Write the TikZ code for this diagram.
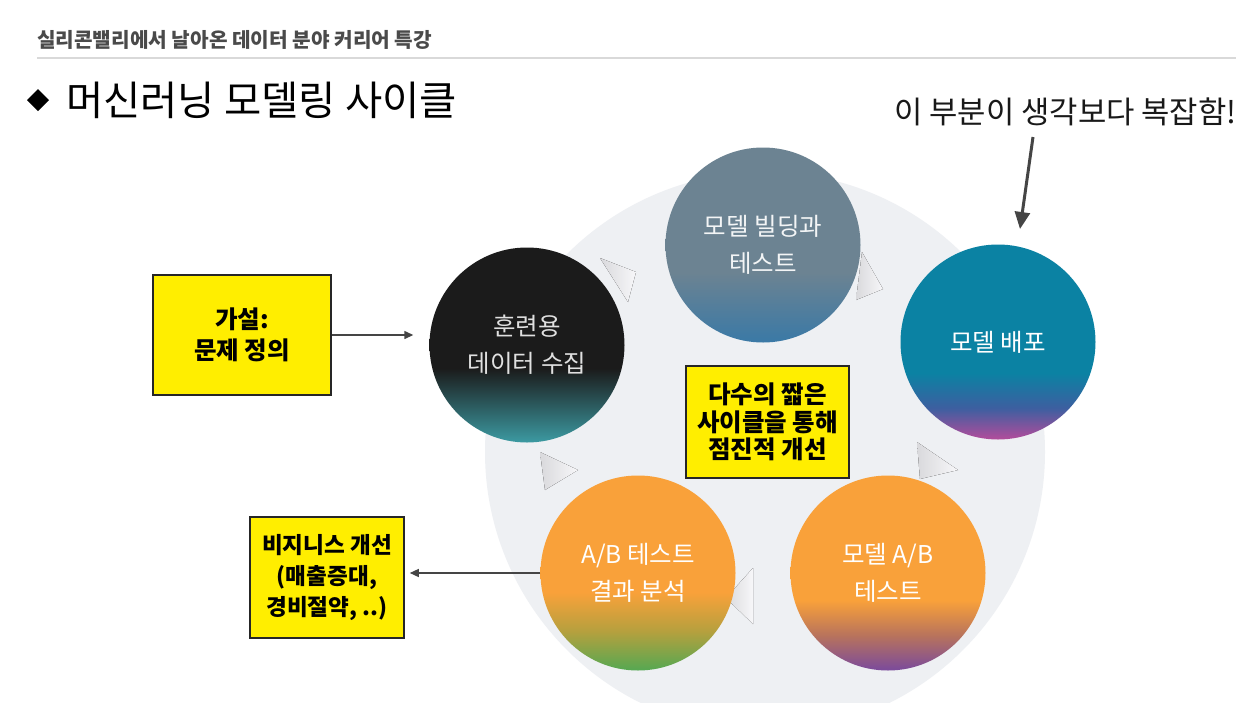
\documentclass[tikz,border=0pt]{standalone}
\usepackage{fontspec}
\setmainfont{Noto Sans CJK KR}
\usetikzlibrary{arrows.meta}

\definecolor{bgc}{HTML}{EEF0F3}
\definecolor{hdr}{HTML}{4A4A4A}
\definecolor{rule}{HTML}{D9D9D9}
\definecolor{ylw}{HTML}{FFEE00}
\definecolor{arrc}{HTML}{454545}
\definecolor{triA}{HTML}{D9D9DC}
\definecolor{triB}{HTML}{F7F7F9}
% circle colours
\definecolor{cAtop}{HTML}{1B1B1B}
\definecolor{cAbot}{HTML}{3C9AA2}
\definecolor{cBtop}{HTML}{6C8392}
\definecolor{cBbot}{HTML}{3A79A6}
\definecolor{cCtop}{HTML}{0B82A3}
\definecolor{cCmid}{HTML}{3D5FA0}
\definecolor{cCbot}{HTML}{B34C9B}
\definecolor{orng}{HTML}{F9A13A}
\definecolor{cDmid}{HTML}{B8735C}
\definecolor{cDbot}{HTML}{7A4A9C}
\definecolor{cEmid}{HTML}{B5A03E}
\definecolor{cEbot}{HTML}{55A852}

\pgfdeclareverticalshading{shA}{100bp}{color(0bp)=(cAbot); color(25bp)=(cAbot); color(44bp)=(cAtop); color(100bp)=(cAtop)}
\pgfdeclareverticalshading{shB}{100bp}{color(0bp)=(cBbot); color(25bp)=(cBbot); color(43bp)=(cBtop); color(100bp)=(cBtop)}
\pgfdeclareverticalshading{shC}{100bp}{color(0bp)=(cCbot); color(25bp)=(cCbot); color(33bp)=(cCmid); color(42bp)=(cCtop); color(100bp)=(cCtop)}
\pgfdeclareverticalshading{shD}{100bp}{color(0bp)=(cDbot); color(25bp)=(cDbot); color(34bp)=(cDmid); color(43bp)=(orng); color(100bp)=(orng)}
\pgfdeclareverticalshading{shE}{100bp}{color(0bp)=(cEbot); color(25bp)=(cEbot); color(35bp)=(cEmid); color(45bp)=(orng); color(100bp)=(orng)}

\tikzset{
  stagecircle/.style={circle, inner sep=0pt, minimum size=195pt, shade, align=center,
    font={\fontsize{24.5}{37}\selectfont}},
  notebox/.style={draw=black!85, line width=1.6pt, fill=ylw, inner sep=0pt, align=center,
    font={\bfseries\fontsize{24.5}{31}\selectfont}},
  arr/.style={draw=arrc, line width=1.4pt, -{Triangle[length=9pt,width=8pt]}},
  bigarr/.style={draw=arrc, line width=3pt, -{Triangle[length=17pt,width=15pt]}},
  tri/.style={left color=triA, right color=triB}
}

\begin{document}
\begin{tikzpicture}[x=1pt,y=-1pt]
\useasboundingbox (0,0) rectangle (1251,702);
\fill[white] (0,0) rectangle (1251,702);

% header
\node[anchor=west, inner sep=0pt, text=hdr, font={\bfseries\fontsize{20.2}{22}\selectfont}] (hdr) at (37,40) {실리콘밸리에서 날아온 데이터 분야 커리어 특강};
\draw[rule, line width=2pt] (37,58) -- (1236,58);

% title
\fill[black] (38,89) -- (49,100) -- (38,111) -- (27,100) -- cycle;
\node[anchor=west, inner sep=0pt, font={\fontsize{40.5}{44}\selectfont}] (title) at (66,100) {머신러닝 모델링 사이클};

% background circle
\fill[bgc] (765,452) circle (280);

% small cycle triangles
\fill[tri] (600,258) -- (636,272) -- (628,302) -- cycle;
\fill[tri] (862,252) -- (883,289) -- (856,300) -- cycle;
\fill[tri] (917,442) -- (958,470) -- (920,479) -- cycle;
\fill[tri] (753,568) -- (753,624) -- (726,598) -- cycle;
\fill[tri] (540,452) -- (578,470) -- (545,490) -- cycle;

% stage circles
\node[stagecircle, shading=shA, text=white!88!black] (c1) at (527,345) {훈련용\\데이터 수집};
\node[stagecircle, shading=shB, text=white!92!cBtop] (c2) at (763,245) {모델 빌딩과\\테스트};
\node[stagecircle, shading=shC, text=white] (c3) at (998,342) {모델 배포};
\node[stagecircle, shading=shD, text=white] (c4) at (888,573) {모델 A/B\\테스트};
\node[stagecircle, shading=shE, text=white] (c5) at (638,573) {A/B 테스트\\결과 분석};

% yellow boxes
\node[notebox, minimum width=178pt, minimum height=120pt] (b1) at (242,335) {가설:\\문제 정의};
\node[notebox, minimum width=163pt, minimum height=112pt, font={\bfseries\fontsize{24.5}{27.5}\selectfont}] (b2) at (767.5,422) {다수의 짧은\\사이클을 통해\\점진적 개선};
\node[notebox, minimum width=154pt, minimum height=121pt, font={\bfseries\fontsize{22.6}{31}\selectfont}] (b3) at (327,577.5) {비지니스 개선\\(매출증대,\\경비절약, ..)};

% connectors
\draw[arr, shorten >=16pt] (b1.east) -- (b1.east -| c1.west);
\draw[arr, shorten >=5pt] (c5.west) -- (c5.west -| b3.east);

% annotation
\node[anchor=west, inner sep=0pt, text=black!90, font={\fontsize{30.8}{33}\selectfont}] (note) at (894,112) {이 부분이 생각보다 복잡함!};
\coordinate (annostart) at (1033,137);
\coordinate (annotip) at (1020,229);
\draw[bigarr] (annostart) -- (annotip);
\end{tikzpicture}
\end{document}
